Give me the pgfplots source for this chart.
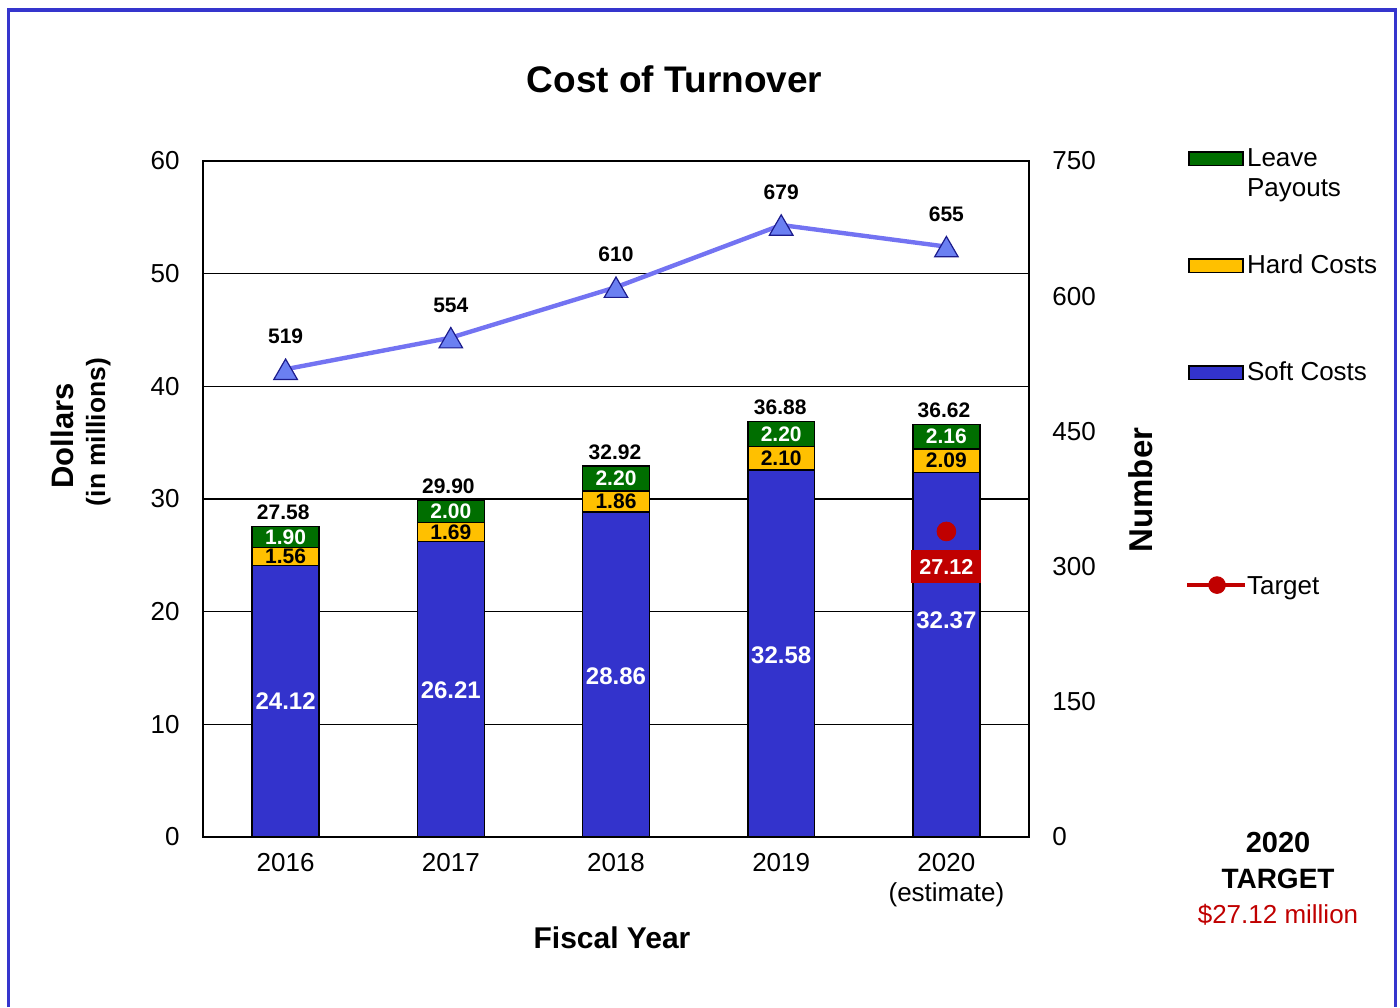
\documentclass[border=0pt]{standalone}
\usepackage{fontspec}
\setmainfont{Liberation Sans}
\usepackage{pgfplots}
\pgfplotsset{compat=1.18}
\definecolor{leave}{HTML}{006E00}
\definecolor{hard}{HTML}{FFC000}
\definecolor{soft}{HTML}{3333CC}
\definecolor{linec}{HTML}{7373F2}
\definecolor{tri}{HTML}{6B80F2}
\definecolor{triedge}{HTML}{1C1C8C}
\definecolor{tred}{HTML}{C00000}
\definecolor{framec}{HTML}{3535CD}
\pgfplotsset{
  common/.style={
    at={(101.5pt,85pt)}, anchor=south west,
    scale only axis, width=413pt, height=338pt,
    xmin=-0.5, xmax=4.5, clip=false,
    /pgf/number format/assume math mode=true,
  },
}
\tikzset{
  seglab/.style={font=\bfseries\fontsize{10.5}{12}\selectfont, inner sep=0pt},
  softlab/.style={font=\bfseries\fontsize{12}{14}\selectfont, text=white, inner sep=0pt},
}
\begin{document}
\begin{tikzpicture}
\useasboundingbox (0,0) rectangle (700pt,503.5pt);
\begin{axis}[common,
  ymin=0, ymax=60,
  ybar stacked, bar width=0.405,
  xtick={0,1,2,3,4},
  xticklabels={2016,2017,2018,2019,{2020\\(estimate)}},
  xticklabel style={align=center, font=\fontsize{13}{15}\selectfont, inner sep=0pt, yshift=-7.8pt},
  ytick={0,10,...,60}, ytick pos=left, xtick pos=bottom,
  yticklabel style={font=\fontsize{13}{15}\selectfont, inner sep=0pt, xshift=-11.5pt},
  major tick length=0pt,
  ymajorgrids, grid style={black, line width=0.7pt},
  axis line style={black, line width=0.8pt},
]
\addplot[draw=black, line width=0.75pt, fill=soft] coordinates {(0,24.12) (1,26.21) (2,28.86) (3,32.58) (4,32.37)};
\addplot[draw=black, line width=0.75pt, fill=hard] coordinates {(0,1.56) (1,1.69) (2,1.86) (3,2.10) (4,2.09)};
\addplot[draw=black, line width=0.75pt, fill=leave] coordinates {(0,1.90) (1,2.00) (2,2.20) (3,2.20) (4,2.16)};
\end{axis}
\begin{axis}[common,
  ymin=0, ymax=750,
  axis y line*=right, axis x line=none,
  ytick={0,150,...,750},
  yticklabel style={font=\fontsize{13}{15}\selectfont, inner sep=0pt, xshift=11.5pt},
  major tick length=0pt,
  axis line style={black, line width=0.8pt},
]
\addplot[linec, line width=2.2pt, mark=triangle*, mark size=6.8pt,
  mark options={fill=tri, draw=triedge, line width=0.6pt, yshift=-1.7pt},
  nodes near coords,
  nodes near coords style={font=\bfseries\fontsize{10.5}{12}\selectfont, text=black, anchor=base, yshift=14.5pt, inner sep=0pt}]
  coordinates {(0,519) (1,554) (2,610) (3,679) (4,655)};
\end{axis}
\begin{axis}[common, ymin=0, ymax=60, hide axis,
  legend style={at={(axis description cs:1.1889,1.0206)}, anchor=north west,
    draw=none, fill=none, inner sep=0pt, outer sep=0pt,
    font=\fontsize{13}{15}\selectfont, row sep=41.5pt, column sep=0pt,
    nodes={inner sep=0pt, text height=9.5pt, text depth=2.5pt}},
  legend cell align=left,
]
\addlegendimage{legend image code/.code={\draw[draw=black,line width=0.75pt,fill=leave] (0pt,-3.3pt) rectangle (27pt,3.5pt);}}
\addlegendimage{legend image code/.code={\draw[draw=black,line width=0.75pt,fill=hard] (0pt,-3.3pt) rectangle (27pt,3.5pt);}}
\addlegendimage{legend image code/.code={\draw[draw=black,line width=0.75pt,fill=soft] (0pt,-3.3pt) rectangle (27pt,3.5pt);}}
\addlegendimage{legend image code/.code={\path[draw=none,fill=none] (0pt,-2.5pt) rectangle (27pt,3.5pt);}}
\addplot[only marks, mark=*, mark size=4.7pt, color=tred,
  legend image code/.code={\draw[tred,line width=2pt] (-1pt,1pt) -- (28pt,1pt); \fill[tred] (14pt,1pt) circle (4.2pt);}]
  coordinates {(4,27.12)};
\node[fill=tred, text=white, font=\bfseries\fontsize{10.8}{13}\selectfont, minimum width=35pt, minimum height=16.5pt, inner sep=0pt] at (axis cs:4,24.0) {27.12};
\node[softlab] at (axis cs:0,12.07) {24.12};
\node[softlab] at (axis cs:1,13.05) {26.21};
\node[softlab] at (axis cs:2,14.29) {28.86};
\node[softlab] at (axis cs:3,16.15) {32.58};
\node[softlab] at (axis cs:4,19.26) {32.37};
\node[seglab] at (axis cs:0,24.90) {1.56};
\node[seglab] at (axis cs:1,27.055) {1.69};
\node[seglab] at (axis cs:2,29.79) {1.86};
\node[seglab] at (axis cs:3,33.63) {2.10};
\node[seglab] at (axis cs:4,33.415) {2.09};
\node[seglab,text=white] at (axis cs:0,26.63) {1.90};
\node[seglab,text=white] at (axis cs:1,28.90) {2.00};
\node[seglab,text=white] at (axis cs:2,31.82) {2.20};
\node[seglab,text=white] at (axis cs:3,35.78) {2.20};
\node[seglab,text=white] at (axis cs:4,35.54) {2.16};
\node[seglab,anchor=base,yshift=3.5pt,xshift=-1.2pt] at (axis cs:0,27.58) {27.58};
\node[seglab,anchor=base,yshift=3.5pt,xshift=-1.2pt] at (axis cs:1,29.90) {29.90};
\node[seglab,anchor=base,yshift=3.5pt,xshift=-0.5pt] at (axis cs:2,32.92) {32.92};
\node[seglab,anchor=base,yshift=3.5pt,xshift=-0.5pt] at (axis cs:3,36.88) {36.88};
\node[seglab,anchor=base,yshift=3.5pt,xshift=-1.2pt] at (axis cs:4,36.62) {36.62};
\legend{\smash{\rlap{\raisebox{-15pt}{Payouts}}}Leave, Hard Costs, Soft Costs, \phantom{X}, Target}
\end{axis}
\begin{scope}[x=0.5pt,y=-0.5pt,yshift=503.5pt]
\draw[framec, line width=1.75pt] (8.5,1007) -- (8.5,10) -- (1395.5,10) -- (1395.5,1007);
\node[anchor=base, font=\bfseries\fontsize{18.5}{22}\selectfont, inner sep=0pt] at (674.5,93) {Cost of Turnover};
\node[anchor=base, font=\bfseries\fontsize{15}{18}\selectfont, inner sep=0pt] at (612,948) {Fiscal Year};
\node[anchor=base, rotate=90, font=\bfseries\fontsize{15.5}{18}\selectfont, inner sep=0pt] at (73,436) {Dollars};
\node[anchor=base, rotate=90, font=\bfseries\fontsize{13.2}{16}\selectfont, inner sep=0pt] at (105,432) {(in millions)};
\node[anchor=base, rotate=90, font=\bfseries\fontsize{16.5}{20}\selectfont, inner sep=0pt] at (1152,490) {Number};
\node[anchor=base, font=\bfseries\fontsize{14.5}{17}\selectfont, inner sep=0pt] at (1278,852) {2020};
\node[anchor=base, font=\bfseries\fontsize{14}{17}\selectfont, inner sep=0pt] at (1278,888) {TARGET};
\node[anchor=base, text=tred, font=\fontsize{13}{16}\selectfont, inner sep=0pt] at (1278,923) {\$27.12 million};
\end{scope}
\end{tikzpicture}
\end{document}
